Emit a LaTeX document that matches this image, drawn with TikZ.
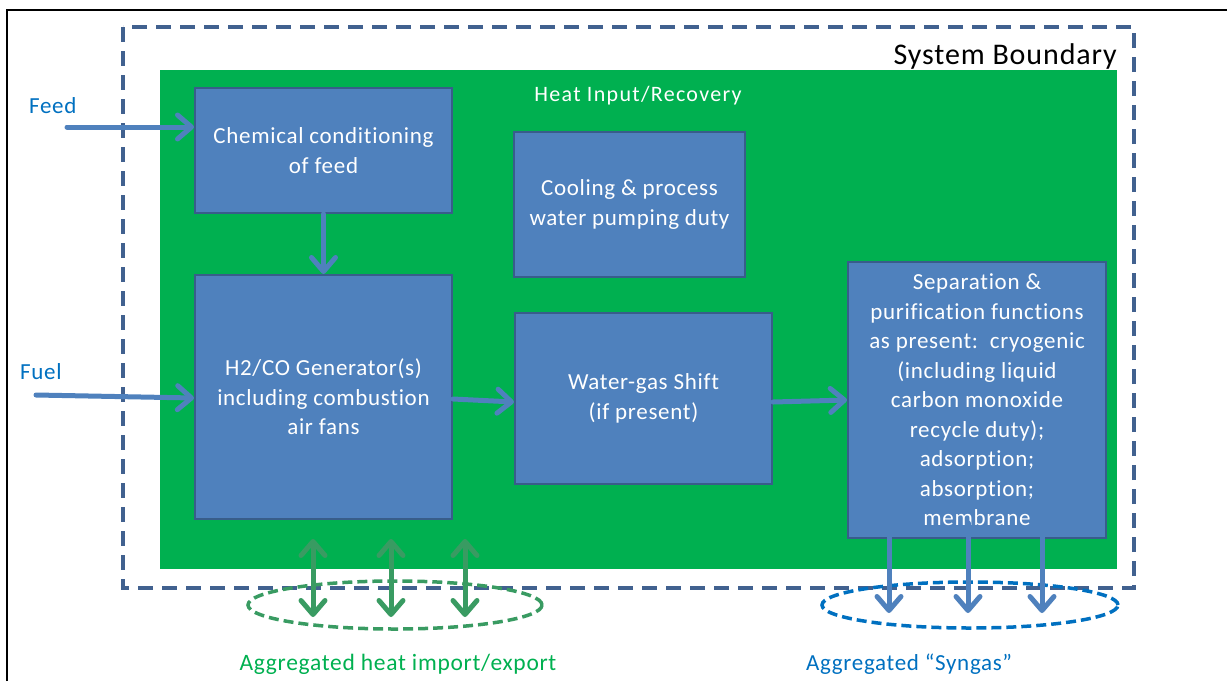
\documentclass[tikz,border=0pt]{standalone}
\usepackage{fontspec}
\setmainfont{Carlito}[LetterSpace=3, Ligatures=NoCommon]
\usetikzlibrary{arrows.meta}
\definecolor{boxfill}{HTML}{4F81BD}
\definecolor{boxline}{HTML}{385D8A}
\definecolor{bgreen}{HTML}{00B050}
\definecolor{hgreen}{HTML}{399B62}
\definecolor{bound}{HTML}{41618F}
\definecolor{lblue}{HTML}{0070C0}
\tikzset{
  procbox/.style={draw=boxline, line width=2pt, fill=boxfill, text=white, align=center,
    font=\fontsize{23}{29.5}\selectfont, inner sep=0pt},
  flow/.style={draw=boxfill, line width=5pt, line cap=round, line join=round,
    -{Straight Barb[length=14pt,width=24pt,line cap=round,line join=round]}},
  heatflow/.style={draw=hgreen, line width=5pt,
    {Straight Barb[length=14pt,width=24pt,line cap=round,line join=round]}-{Straight Barb[length=14pt,width=24pt,line cap=round,line join=round]}},
  lbl/.style={font=\fontsize{23}{27}\selectfont, inner sep=0pt}
}
\begin{document}
\begin{tikzpicture}[x=1pt,y=-1pt]
\useasboundingbox (0,0) rectangle (1227,681);
% outer frame (clipped)
\draw[line width=1.5pt, black] (7,681) -- (7,10) -- (1227,10);
% system boundary
\draw[bound, line width=4pt, dash pattern=on 15pt off 9pt] (123,27) rectangle (1134,588);
\node[lbl, font=\fontsize{30}{34}\selectfont, anchor=east] (sb) at (1117,56) {System Boundary};
% green area
\fill[bgreen] (160,70) rectangle (1117,569);
\node[lbl, text=white, font=\fontsize{22}{26}\selectfont\addfontfeature{LetterSpace=6}] (hir) at (638,96) {Heat Input/Recovery};
% boxes
\node[procbox, minimum width=257pt, minimum height=125pt] (A) at (323.5,150.5) {Chemical conditioning\\of feed};
\node[procbox, minimum width=231pt, minimum height=145pt] (B) at (629.5,204.5) {Cooling \& process\\water pumping duty};
\node[procbox, minimum width=257pt, minimum height=244pt] (C) at (323.5,397) {H2/CO Generator(s)\\including combustion\\air fans};
\node[procbox, minimum width=257pt, minimum height=171pt] (D) at (643.5,398.5) {Water-gas Shift\\(if present)};
\node[procbox, minimum width=258pt, minimum height=276pt] (E) at (977,400) {Separation \&\\purification functions\\as present:\ \ cryogenic\\(including liquid\\carbon monoxide\\recycle duty);\\adsorption;\\absorption;\\membrane};
% labels
\node[lbl, text=lblue, anchor=west] (feed) at (29,106) {Feed};
\node[lbl, text=lblue, anchor=west] (fuel) at (20,372) {Fuel};
% connector coordinates
\coordinate (feedS) at (67,127);
\coordinate (fuelS) at (36,395);
% arrows
\draw[flow] (feedS) -- (A.west |- feedS);
\draw[flow] (fuelS) -- (C.west |- 0,398);
\draw[flow] (A.south) -- (C.north);
\draw[flow] (C.east |- 0,399) -- (D.west |- 0,402);
\draw[flow] (D.east |- 0,402) -- (E.west |- 0,400);
% heat ellipse and arrows
\draw[hgreen, line width=3.5pt, dash pattern=on 10pt off 5pt] (395,605) ellipse [x radius=147pt, y radius=24pt];
\coordinate (h1t) at (313,539); \coordinate (h1b) at (313,617);
\coordinate (h2t) at (391,539); \coordinate (h2b) at (391,617);
\coordinate (h3t) at (465,539); \coordinate (h3b) at (465,617);
\draw[heatflow] (h1t) -- (h1b);
\draw[heatflow] (h2t) -- (h2b);
\draw[heatflow] (h3t) -- (h3b);
\node[lbl, text=bgreen, font=\fontsize{23.5}{28}\selectfont] (heatlbl) at (398,664) {Aggregated heat import/export};
% syngas ellipse and arrows
\draw[lblue, line width=3.5pt, dash pattern=on 10pt off 5pt] (970,605) ellipse [x radius=148pt, y radius=23pt];
\coordinate (s1t) at (889,523); \coordinate (s1b) at (889,613);
\coordinate (s2t) at (968,523); \coordinate (s2b) at (968,613);
\coordinate (s3t) at (1042,523); \coordinate (s3b) at (1042,613);
\draw[flow] (s1t) -- (s1b);
\draw[flow] (s2t) -- (s2b);
\draw[flow] (s3t) -- (s3b);
\node[lbl, text=lblue, anchor=west] (synlbl) at (806,664) {Aggregated “Syngas”};
\end{tikzpicture}
\end{document}
